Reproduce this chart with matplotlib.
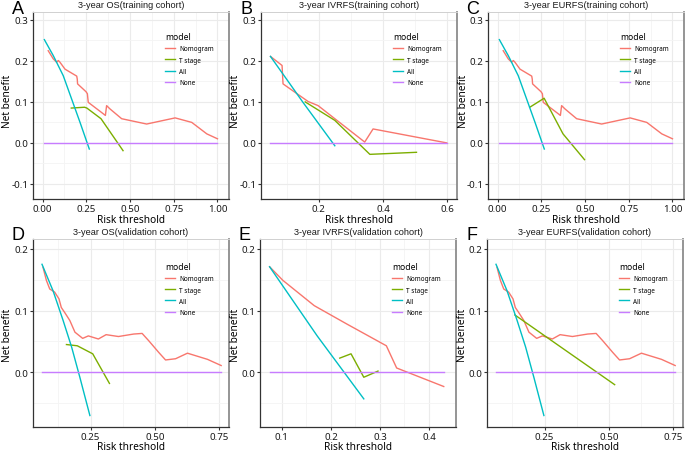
import matplotlib
matplotlib.use("Agg")
import matplotlib.pyplot as plt
from matplotlib.ticker import FixedLocator

plt.rcParams["font.family"] = ["Noto Sans", "DejaVu Sans"]
plt.rcParams["axes.unicode_minus"] = False

RED, GREEN, CYAN, PURPLE = "#F8766D", "#7CAE00", "#00BFC4", "#C77CFF"

# ---- A: 3-year OS (training) ----
a_nom_x = [0.032, 0.061, 0.080, 0.090, 0.099, 0.128, 0.195, 0.198, 0.200, 0.248, 0.256, 0.261,
           0.347, 0.359, 0.366, 0.385, 0.452, 0.595, 0.758, 0.853, 0.939, 1.000]
a_nom_y = [0.225, 0.205, 0.197, 0.201, 0.197, 0.180, 0.163, 0.156, 0.144, 0.125, 0.120, 0.099,
           0.071, 0.067, 0.091, 0.083, 0.059, 0.046, 0.061, 0.050, 0.022, 0.010]
a_t_x = [0.164, 0.240, 0.253, 0.334, 0.460]
a_t_y = [0.085, 0.087, 0.085, 0.059, -0.019]
a_all_x = [0.010, 0.061, 0.118, 0.166, 0.214, 0.267]
a_all_y = [0.252, 0.213, 0.164, 0.107, 0.050, -0.015]
a_none_x = [0.010, 1.000]

# ---- B: 3-year IVRFS (training) ----
b_nom_x = [0.050, 0.086, 0.089, 0.167, 0.198, 0.250, 0.343, 0.369, 0.598]
b_nom_y = [0.211, 0.189, 0.144, 0.101, 0.091, 0.059, 0.002, 0.034, 0.000]
b_t_x = [0.158, 0.250, 0.359, 0.504]
b_t_y = [0.100, 0.055, -0.028, -0.023]
b_all_x = [0.050, 0.151, 0.250]
b_all_y = [0.211, 0.099, -0.007]
b_none_x = [0.050, 0.600]

# ---- C: 3-year EURFS (training) ----
c_nom_x = a_nom_x
c_nom_y = a_nom_y
c_t_x = [0.184, 0.266, 0.374, 0.497]
c_t_y = [0.087, 0.109, 0.022, -0.041]
c_all_x = a_all_x
c_all_y = a_all_y
c_none_x = [0.010, 1.000]

# ---- D: 3-year OS (validation) ----
d_nom_x = [0.065, 0.078, 0.091, 0.110, 0.127, 0.136, 0.149, 0.169, 0.189, 0.219, 0.241, 0.280,
           0.310, 0.358, 0.417, 0.450, 0.476, 0.515, 0.541, 0.580, 0.626, 0.704, 0.757]
d_nom_y = [0.170, 0.149, 0.135, 0.130, 0.119, 0.105, 0.097, 0.084, 0.065, 0.055, 0.059, 0.054,
           0.061, 0.058, 0.062, 0.063, 0.051, 0.032, 0.020, 0.022, 0.031, 0.021, 0.011]
d_t_x = [0.156, 0.198, 0.258, 0.323]
d_t_y = [0.045, 0.043, 0.030, -0.018]
d_all_x = [0.061, 0.104, 0.143, 0.176, 0.208, 0.247]
d_all_y = [0.175, 0.132, 0.084, 0.041, -0.008, -0.070]
d_none_x = [0.061, 0.757]

# ---- E: 3-year IVRFS (validation) ----
e_nom_x = [0.075, 0.102, 0.166, 0.233, 0.313, 0.334, 0.430]
e_nom_y = [0.171, 0.149, 0.108, 0.078, 0.043, 0.007, -0.023]
e_t_x = [0.218, 0.241, 0.267, 0.296]
e_t_y = [0.023, 0.030, -0.008, 0.002]
e_all_x = [0.075, 0.172, 0.267]
e_all_y = [0.171, 0.059, -0.043]
e_none_x = [0.075, 0.430]

# ---- F: 3-year EURFS (validation) ----
f_nom_x = d_nom_x
f_nom_y = d_nom_y
f_t_x = [0.134, 0.522]
f_t_y = [0.093, -0.020]
f_all_x = d_all_x
f_all_y = d_all_y
f_none_x = [0.061, 0.757]

panels = [
    ("A", "3-year OS(training cohort)", a_nom_x, a_nom_y, a_t_x, a_t_y, a_all_x, a_all_y, a_none_x),
    ("B", "3-year IVRFS(training cohort)", b_nom_x, b_nom_y, b_t_x, b_t_y, b_all_x, b_all_y, b_none_x),
    ("C", "3-year EURFS(training cohort)", c_nom_x, c_nom_y, c_t_x, c_t_y, c_all_x, c_all_y, c_none_x),
    ("D", "3-year OS(validation cohort)", d_nom_x, d_nom_y, d_t_x, d_t_y, d_all_x, d_all_y, d_none_x),
    ("E", "3-year IVRFS(validation cohort)", e_nom_x, e_nom_y, e_t_x, e_t_y, e_all_x, e_all_y, e_none_x),
    ("F", "3-year EURFS(validation cohort)", f_nom_x, f_nom_y, f_t_x, f_t_y, f_all_x, f_all_y, f_none_x),
]

# axis settings per panel: xlim, xticks, labels, minor gridlines
xcfg = [
    ((-0.055, 1.066), [0, 0.25, 0.5, 0.75, 1.0], ["0.00", "0.25", "0.50", "0.75", "1.00"], [0.125, 0.375, 0.625, 0.875]),
    ((0.0205, 0.630), [0.2, 0.4, 0.6], ["0.2", "0.4", "0.6"], [0.1, 0.3, 0.5]),
    ((-0.055, 1.066), [0, 0.25, 0.5, 0.75, 1.0], ["0.00", "0.25", "0.50", "0.75", "1.00"], [0.125, 0.375, 0.625, 0.875]),
    ((0.026, 0.7875), [0.25, 0.5, 0.75], ["0.25", "0.50", "0.75"], [0.125, 0.375, 0.625]),
    ((0.0554, 0.455), [0.1, 0.2, 0.3, 0.4], ["0.1", "0.2", "0.3", "0.4"], [0.15, 0.25, 0.35]),
    ((0.026, 0.7875), [0.25, 0.5, 0.75], ["0.25", "0.50", "0.75"], [0.125, 0.375, 0.625]),
]
row1_y = ((-0.137, 0.3195), [-0.1, 0.0, 0.1, 0.2, 0.3], ["-0.1", "0.0", "0.1", "0.2", "0.3"],
          [-0.05, 0.05, 0.15, 0.25])
row2_y = ((-0.0886, 0.216), [0.0, 0.1, 0.2], ["0.0", "0.1", "0.2"], [-0.05, 0.05, 0.15])

W, H = 685, 452
fig = plt.figure(figsize=(W / 100, H / 100), dpi=100)

lefts = [[33, 261, 488], [33, 260, 487]]
rows = [(13, 200), (240, 428)]

for i, (letter, title, nx, ny, tx, ty, ax_, ay_, nonex) in enumerate(panels):
    r, c = divmod(i, 3)
    top, bot = rows[r]
    left = lefts[r][c]
    ax = fig.add_axes([left / W, 1 - bot / H, 196 / W, (bot - top) / H])

    xl, xt, xtl, xm = xcfg[i]
    yl, yt, ytl, ym = row1_y if r == 0 else row2_y
    ax.set_xlim(*xl)
    ax.set_ylim(*yl)
    ax.set_xticks(xt)
    ax.set_xticklabels(xtl)
    ax.set_yticks(yt)
    ax.set_yticklabels(ytl)
    ax.xaxis.set_minor_locator(FixedLocator(xm))
    ax.yaxis.set_minor_locator(FixedLocator(ym))
    ax.grid(which="major", color="#ebebeb", lw=0.8)
    ax.grid(which="minor", color="#f4f4f4", lw=0.6)
    ax.set_axisbelow(True)
    ax.tick_params(which="minor", length=0)
    ax.tick_params(which="major", length=2, width=0.8, color="#333333", pad=1.5,
                   labelsize=7, labelcolor="#1a1a1a")

    for s in ["left", "bottom"]:
        ax.spines[s].set_color("#333333")
        ax.spines[s].set_linewidth(0.9)
    ax.spines["top"].set_color("#d0d0d0")
    ax.spines["top"].set_linewidth(0.7)
    ax.spines["right"].set_color("#8c8c8c")
    ax.spines["right"].set_linewidth(1.3)

    ax.plot(nx, ny, color=RED, lw=1.0, label="Nomogram")
    ax.plot(tx, ty, color=GREEN, lw=1.0, label="T stage")
    ax.plot(ax_, ay_, color=CYAN, lw=1.0, label="All")
    ax.plot(nonex, [0, 0], color=PURPLE, lw=1.0, label="None")

    leg = ax.legend(title="model", loc="upper left",
                    bbox_to_anchor=(0.66, 0.905 if r == 0 else 0.89),
                    frameon=False, fontsize=4.6, title_fontsize=6.2,
                    handlelength=1.6, handletextpad=0.6, labelspacing=0.65,
                    borderaxespad=0)
    leg._legend_box.align = "left"

    cx = (left + 98) / W
    fig.text(cx, 1 - (5 if r == 0 else 233) / H, title, ha="center", va="center",
             fontsize=6.6, family=["Liberation Sans", "DejaVu Sans"], color="#1a1a1a")
    fig.text((left - 15) / W, 1 - (9 if r == 0 else 236) / H, letter, ha="center", va="center",
             fontsize=13, family=["Liberation Sans", "DejaVu Sans"])
    fig.text(cx, 1 - (221 if r == 0 else 448) / H, "Risk threshold", ha="center", va="center",
             fontsize=7.3)
    fig.text((left - 25) / W, 1 - (101 if r == 0 else 335) / H, "Net benefit", ha="center",
             va="center", rotation=90, fontsize=7.3)

fig.savefig("out.png", dpi=100)
